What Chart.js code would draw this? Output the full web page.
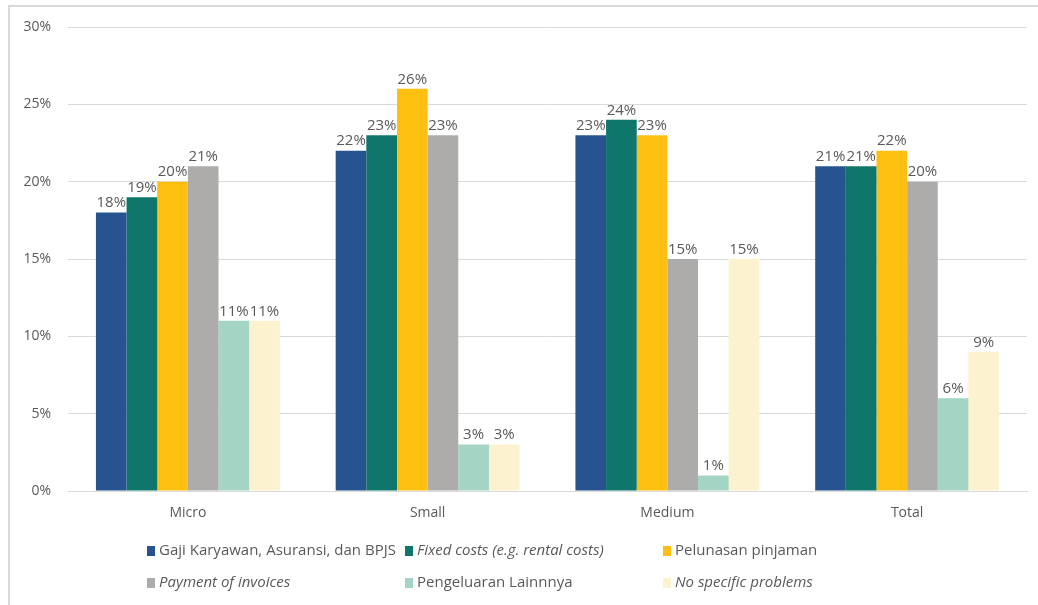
<!DOCTYPE html>
<html>
<head>
<meta charset="utf-8">
<script src="https://cdn.jsdelivr.net/npm/chart.js@4.4.0/dist/chart.umd.min.js"></script>
<style>
  body { margin: 0; background: #fff; }
  #wrap { position: relative; width: 1038px; height: 605px; }
  #frame { position: absolute; left: 8px; top: 5px; right: 0; bottom: 0; border-top: 2px solid #d9d9d9; border-left: 2px solid #d9d9d9; pointer-events: none; }
  canvas { position: absolute; left: 0; top: 0; }
</style>
</head>
<body>
<div id="wrap">
  <canvas id="grafico" width="1038" height="605"></canvas>
  <div id="frame"></div>
</div>
<script>
// Datos

const categorias = ["Micro", "Small", "Medium", "Total"];

const gaji = [18, 22, 23, 21];
const fixedCosts = [19, 23, 24, 21];
const pelunasan = [20, 26, 23, 22];
const invoices = [21, 23, 15, 20];
const lainnya = [11, 3, 1, 6];
const noProblems = [11, 3, 15, 9];

const ticksY = [0, 5, 10, 15, 20, 25, 30];

const series = [
  { label: "Gaji Karyawan, Asuransi, dan BPJS", data: gaji, color: "#27548F", italic: false },
  { label: "Fixed costs (e.g. rental costs)", data: fixedCosts, color: "#0E766B", italic: true },
  { label: "Pelunasan pinjaman", data: pelunasan, color: "#FEBF10", italic: false },
  { label: "Payment of invoices", data: invoices, color: "#ADACAA", italic: true },
  { label: "Pengeluaran Lainnnya", data: lainnya, color: "#A3D4C4", italic: false },
  { label: "No specific problems", data: noProblems, color: "#FDF2CF", italic: true },
];

const fuente = "'Open Sans', 'Noto Sans', sans-serif";

// Etiquetas encima de cada barra

const etiquetas = {
  id: "etiquetas",
  afterDatasetsDraw(chart) {
    const ctx = chart.ctx;
    ctx.save();
    ctx.font = "15px " + fuente;
    ctx.fillStyle = "#595959";
    ctx.textAlign = "center";
    ctx.textBaseline = "bottom";
    chart.data.datasets.forEach((ds, i) => {
      chart.getDatasetMeta(i).data.forEach((bar, j) => {
        ctx.fillText(ds.data[j] + "%", bar.x, bar.y - 2);
      });
    });
    ctx.restore();
  },
};

// Leyenda dibujada a mano (algunas entradas van en cursiva)

const leyenda = {
  id: "leyenda",
  afterDraw(chart) {
    const ctx = chart.ctx;
    ctx.save();
    ctx.textBaseline = "middle";
    series.forEach((s, i) => {
      let x = 147 + (i % 3) * 258;
      let y = 551 + Math.floor(i / 3) * 32;
      ctx.fillStyle = s.color;
      ctx.fillRect(x, y - 5, 8, 10);
      ctx.fillStyle = "#595959";
      ctx.font = (s.italic ? "italic " : "") + "15px " + fuente;
      ctx.textAlign = "left";
      ctx.fillText(s.label, x + 12, y);
    });
    ctx.restore();
  },
};

let ctx = document.getElementById("grafico");

let myChart = new Chart(ctx, {
  type: "bar",
  data: {
    labels: categorias,
    datasets: series.map((s) => ({
      label: s.label,
      data: s.data,
      backgroundColor: s.color,
      borderWidth: 0,
      categoryPercentage: 0.767,
      barPercentage: 1,
    })),
  },
  options: {
    responsive: false,
    animation: false,
    layout: { padding: { left: 10, right: 11, top: 27, bottom: 74 } },
    plugins: {
      legend: { display: false },
      tooltip: { enabled: false },
    },
    scales: {
      x: {
        grid: { display: false, drawTicks: false },
        border: { color: "#d9d9d9" },
        ticks: { color: "#595959", font: { size: 14, family: fuente }, padding: 14 },
        afterFit: (scale) => { scale.height = 40; },
      },
      y: {
        min: 0,
        max: 30,
        afterBuildTicks: (scale) => { scale.ticks = ticksY.map((v) => ({ value: v })); },
        grid: { color: "#d9d9d9", drawTicks: false },
        border: { display: false },
        ticks: {
          color: "#595959",
          font: { size: 14, family: fuente },
          padding: 17,
          callback: (v) => v + "%",
        },
        afterFit: (scale) => { scale.width = 58; },
      },
    },
  },
  plugins: [etiquetas, leyenda],
});
</script>
</body>
</html>
